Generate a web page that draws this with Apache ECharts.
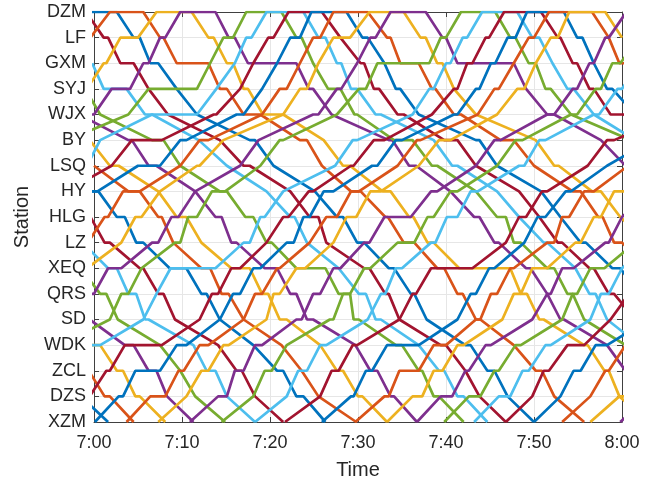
<!DOCTYPE html>
<html><head><meta charset="utf-8">
<style>html,body{margin:0;padding:0;background:#fff}#c{width:650px;height:485px}</style>
<script src="https://cdn.jsdelivr.net/npm/echarts@6/dist/echarts.min.js"></script>
</head><body><div id="c"></div>
<script>
const stations=["DZM","LF","GXM","SYJ","WJX","BY","LSQ","HY","HLG","LZ","XEQ","QRS","SD","WDK","ZCL","DZS","XZM"];
const timeTicks=["7:00","7:10","7:20","7:30","7:40","7:50","8:00"];
const palette=["#0072BD","#D95319","#EDB120","#7E2F8E","#77AC30","#4DBEEE","#A2142F"];
// Each train: first station index, first direction (-1 toward DZM, +1 toward XZM), then minutes after 7:00 at each station; a pair is arrive/depart.
const t01=[15,1,-1.5,1.6];
const t02=[14,1,-0.6,[1.2,1.8],4.5];
const t03=[13,1,[-0.5,0.7],[2.6,3.3],[4.7,5.2],8.1];
const t04=[12,1,-0.5,[3.5,4.5],[6.2,7.1],8.3,11.3];
const t05=[10,1,-1.5,[0.7,1.4],2.7,7.5,9.8,11.5,14.9];
const t06=[9,1,-1.3,[1.6,2.6],[3.9,4.8],[5.8,6.2],11.3,[12.8,13.8],15.1,18.3];
const t07=[8,1,-0.4,[1.2,1.8],[5.2,5.6],[7.3,7.9],9.2,14.1,[16.2,16.8],18.3,21.5];
const t08=[7,1,[-0.5,0.5],[2.6,3.5],[4.8,5.6],[8.6,10.5],[12.2,12.8],14.3,18.1,[20.8,21.5],[23.0,23.8],26.3];
const t09=[6,1,0,[3.9,5.2],[7.3,7.7],9.0,[12.2,13.2],[14.5,15.3],17.0,21.3,23.6,25.5,29.8];
const t10=[5,1,-0.5,[1.8,2.8],7.3,[9.4,10.5],12.2,[15.6,17.7],[19.1,19.8],[21.1,21.9],25.7,[27.6,28.3],[30.0,30.5],33.3];
const t11=[4,1,-1.7,[3.9,4.3],[6.2,7.1],11.5,[13.8,14.5],[15.6,16.2],[19.4,20.8],[22.3,23.0],[24.2,24.9],29.7,[31.4,32.2],[33.7,34.1],36.7];
const t12=[3,1,-1.0,0.7,[6.6,7.9],9.8,[14.3,15.1],[17.2,18.1],[19.6,20.2],[23.0,26.3],[27.8,29.1],[29.5,30.1],[34.3,35.0],[36.9,37.3],[38.6,39.2],42.0];
const t13=[2,1,-0.2,[1.1,3.7],[5.8,6.6],11.9,15.1,19.6,[22.3,22.8],24.2,27.8,[30.1,30.9],[32.0,32.6],36.9,[39.2,39.8],[41.3,42.0],44.7];
const t14=[0,1,-0.9,[1.1,1.6],[3.0,4.5],6.2,8.4,14.3,[17.0,17.7],22.3,[24.5,25.5],26.4,[30.7,31.3],[33.1,33.5],34.7,[39.4,40.0],42.2,43.8,46.8];
const t15=[0,1,[-2,2.6],[4.5,5.2],[6.4,7.3],9.4,11.7,[17.7,18.3],20.4,25.1,[27.6,28.3],[29.9,30.7],[33.5,34.1],[36.0,36.4],37.8,[42.2,42.8],[44.7,45.5],47.0,50.0];
const t16=[1,-1,-0.4,[1.8,5.6],[7.5,7.9],[9.4,13.0],[14.3,15.1],[17.0,18.9],[23.4,24.2],25.9,[29.2,30.3],[33.1,33.4],[35.2,36.4],[39.0,39.8],[41.3,41.9],[43.4,43.9],47.7,[50.2,50.9],52.3,55.7];
const t17=[3,-1,-0.8,[1.1,1.4],[3.0,5.0],[7.1,11.1],[13.0,13.6],[15.1,15.8],[17.0,17.5],[19.2,21.5],26.1,[28.3,29.1],[32.8,33.7],[35.8,36.3],[37.9,38.6],[41.5,47.3],[48.5,49.2],[50.6,51.1],[55.7,56.1],[58.0,58.5],59.7,63];
const t18=[4,-1,[-0.5,0],[2.0,4.1],[5.6,6.2],[7.5,8.1],[9.8,13.8],[15.3,16.0],[17.5,23.0],[24.4,24.9],27.0,[33.5,33.9],[35.8,36.6],40.5,[43.2,43.8],[45.5,46.0],[49.1,49.6],51.5,[53.0,53.4],58.3,60.4];
const t19=[5,-1,-3.0,3.9,[6.2,11.7],13.2,[14.7,15.8],[17.3,21.3],[23.0,23.6],24.9,[26.6,28.0],[29.6,29.9],[34.1,36.2],[38.4,39.0],43.4,[45.8,46.8],[47.7,48.5],[51.5,52.3],[53.8,54.4],55.7,60.4];
const t20=[6,-1,-0.8,0.7,[6.6,11.7],13.9,16.0,[17.3,17.9],[19.6,23.8],[25.5,26.3],[27.6,28.1],[29.2,29.9],[32.0,32.6],38.6,[40.7,41.3],45.8,48.3,[51.1,51.5],54.7,[56.3,57.0],58.3,62];
const t21=[7,-1,-3.2,2.0,[4.3,7.7],[13.6,13.9],16.6,18.1,[19.8,20.4],[22.1,25.9],28.0,[30.3,30.7],[31.8,32.4],[34.5,35.2],[39.8,41.3],43.4,48.3,50.6,[52.7,53.2],[56.3,56.8],[58.5,59.1],61.5];
const t22=[7,-1,[-0.5,0.4],[5.0,7.5],[9.8,10.5],[16.2,17.0],19.1,20.8,[22.3,23.4],[24.7,28.7],[30.5,31.1],33.0,[34.3,34.8],36.9,[43.4,43.8],45.8,50.8,53.0,[55.3,55.9],[58.9,59.8],62];
const t23=[9,-1,-0.7,[1.2,1.6],[3.3,5.2],9.8,[12.0,13.0],19.1,[21.1,21.9],23.4,[24.9,25.7],[27.2,31.1],[33.3,33.7],[34.8,36.9],[38.4,38.8],[40.9,41.7],[46.2,47.7],50.0,[54.4,55.3],[57.3,57.8],[59.1,60.0],63];
const t24=[10,-1,-0.8,3.1,[4.7,5.4],7.5,[11.7,12.0],14.7,21.5,[23.4,24.2],25.5,[27.2,29.1],[31.3,35.2],[37.1,37.7],[39.0,39.6],40.9,43.4,50.2,[52.3,52.8],[56.6,57.6],59.8,63];
const t25=[11,-1,[-0.5,0],[1.6,3.1],[6.6,7.3],[8.8,9.6],11.5,16.6,18.7,[24.9,25.5],[27.6,28.1],29.9,[31.4,32.0],[33.7,37.7],[39.6,40.0],[41.3,47.7],49.1,[51.5,52.3],57.6,60.4];
const t26=[13,-1,-4,1.8,[3.1,3.9],5.4,[9.2,9.8],[10.7,11.7],[13.4,14.9],18.9,[21.1,21.5],27.6,[30.1,30.9],[32.2,38.1],[39.4,40.0],[41.7,45.6],[47.3,47.9],[49.4,50.2],[51.3,51.9],54.2,61];
const t27=[13,-1,[-0.5,0.7],5.6,7.1,[8.7,13.8],[17.0,17.7],[18.9,19.4],21.5,27.4,[29.4,29.9],36.2,[38.1,38.6],[40.0,40.5],[41.9,42.4],[44.1,48.1],[49.8,50.6],52.1,[53.8,54.5],56.8,61.5];
const t28=[15,-1,-0.5,[1.4,1.8],[3.5,7.7],12.0,[13.4,14.1],[15.6,16.6],19.6,[21.5,22.1],[24.4,24.9],[29.2,29.5],[31.8,33.0],38.4,[40.9,41.3],[42.4,43.0],[44.5,44.9],[46.6,50.8],[52.7,53.0],[54.4,54.9],[56.3,56.8],[58.7,60.2],66];
const t29=[16,-1,0.1,[2.8,3.3],[4.7,7.5],[9.4,10.5],14.3,[15.8,16.6],[18.1,18.9],[21.9,22.7],[23.8,24.5],[26.1,27.2],[31.6,32.2],[34.3,35.0],[40.9,41.3],[43.4,43.8],[45.1,45.6],[47.0,47.9],[49.2,53.4],[54.9,55.5],56.8,[58.3,58.9],61.5];
const t30=[16,-1,3.7,[6.4,8.1],[9.6,10.2],[12.0,13.0],17.0,[18.3,19.1],[20.8,21.1],24.5,[26.4,27.6],[29.2,30.1],34.5,[36.7,37.1],43.6,[45.5,46.0],47.7,[49.4,50.0],[51.7,56.6],58.5,[59.7,60.5]];
const t31=[16,-1,7.3,10.5,[12.2,13.0],[14.7,15.3],19.6,[20.4,21.1],[23.0,24.0],27.2,[28.7,29.8],[31.4,32.6],36.9,[39.2,40.5],45.8,[48.1,48.9],50.2,[51.9,52.7],[54.0,58.1],60];
const t32=[16,-1,10.9,[14.1,15.1],[16.0,17.0],[18.3,19.1],[23.0,23.6],[24.9,25.7],[27.2,28.0],[30.7,31.3],[33.0,36.0],[38.3,39.0],43.4,[45.5,46.2],[51.5,52.3],[54.4,54.9],[56.3,56.8],[58.1,58.5],60.5];
const t33=[16,-1,14.5,[18.1,18.3],[19.4,20.2],21.9,[26.8,27.2],[28.3,29.1],[30.7,31.4],[34.5,36.4],[37.9,38.6],[40.5,41.3],45.8,[47.9,48.7],[54.2,54.9],[57.0,57.6],[58.9,59.8],62];
const t34=[16,-1,18.3,21.9,[23.2,24.2],[25.7,26.4],31.1,[32.6,33.1],[34.3,35.0],[38.3,38.8],[40.1,41.3],[42.8,43.6],[48.3,48.9],[50.6,51.3],[56.8,57.4],[59.5,60.0],62];
const t35=[16,-1,21.7,25.7,[27.0,27.8],[29.4,29.9],34.7,[36.2,36.6],[38.3,43.0],46.8,[48.3,49.1],[50.9,51.5],56.1,[58.3,59.1],66];
const t36=[16,-1,25.9,[29.2,29.5],[30.9,31.6],[33.3,36.9],41.3,[42.8,43.4],[44.9,45.5],48.9,[50.4,51.3],[53.6,54.2],[58.3,58.5],63.4];
const t37=[16,-1,29.7,[33.0,33.5],[34.7,36.9],[38.6,40.0],[43.4,43.9],[45.1,45.8],[47.3,47.7],[51.5,52.3],[53.2,54.0],[55.7,56.8],60.7];
const t38=[16,-1,33.3,[36.2,37.3],[38.6,39.6],[41.3,42.0],46.4,[47.7,48.5],[49.8,51.5],[54.7,55.3],[56.8,57.6],[59.1,60.2],65];
const t39=[16,-1,36.7,[39.4,40.7],[42.2,42.6],[44.5,45.1],49.8,[51.5,51.9],[53.2,54.5],[58.1,58.5],60.0,63];
const t40=[16,-1,39.8,[42.6,43.9],[45.5,46.0],[47.9,48.5],53.2,[54.4,54.9],[56.4,58.0],61.5];
const t41=[16,-1,43.2,[46.0,47.3],[48.7,49.4],[51.3,51.9],56.4,[57.6,58.5],60.0,63];
const t42=[16,-1,46.8,49.8,[51.1,51.7],[53.8,55.7],58.7,60.8];
const t43=[16,-1,50.0,53.0,[54.5,55.3],[57.0,58.3],63];
const t44=[16,-1,53.2,56.4,[58.1,58.5],60.4];
const t45=[16,-1,56.4,[59.7,61],64];
const t46=[16,-1,59.8,63];
const trains=[t01,t02,t03,t04,t05,t06,t07,t08,t09,t10,t11,t12,t13,t14,t15,t16,t17,t18,t19,t20,t21,t22,t23,t24,t25,t26,t27,t28,t29,t30,t31,t32,t33,t34,t35,t36,t37,t38,t39,t40,t41,t42,t43,t44,t45,t46];

function path(tr){
  let s=tr[0],d=tr[1];const pts=[];
  tr.slice(2).forEach(e=>{
    (Array.isArray(e)?e:[e]).forEach(v=>pts.push([v,s]));
    if(d<0&&s===0)d=1;
    s+=d;
  });
  return pts;
}
const fam='"Liberation Sans",Arial,sans-serif',ink='#262626';
const font={fontFamily:fam,fontSize:18,color:ink};
const chart=echarts.init(document.getElementById('c'),null,{renderer:'canvas'});
const base={min:0,axisLine:{show:true,onZero:false,lineStyle:{color:'#404040',width:1}},axisTick:{show:true,inside:true,length:5,lineStyle:{color:'#404040'}}};
chart.setOption({
  animation:false,backgroundColor:'#fff',
  grid:{left:94,right:28,top:12,bottom:61,containLabel:false},
  xAxis:[
   {...base,type:'value',max:60,interval:10,name:'Time',nameLocation:'middle',nameGap:38,nameTextStyle:{fontFamily:fam,fontSize:20,color:ink},
    axisLabel:{...font,margin:12,formatter:v=>timeTicks[v/10]},splitLine:{show:true,lineStyle:{color:'#e6e6e6',width:1}}},
   {...base,type:'value',max:60,interval:10,position:'top',axisLabel:{show:false},splitLine:{show:false}}],
  yAxis:[
   {...base,type:'value',max:16,interval:1,inverse:true,name:'Station',nameLocation:'middle',nameGap:62,nameTextStyle:{fontFamily:fam,fontSize:20,color:ink},
    axisLabel:{...font,margin:8,formatter:v=>stations[v]},splitLine:{show:true,lineStyle:{color:'#e6e6e6',width:1}}},
   {...base,type:'value',max:16,interval:1,inverse:true,position:'right',axisLabel:{show:false},splitLine:{show:false}}],
  series:trains.map((tr,i)=>({type:'line',data:path(tr),showSymbol:false,symbol:'none',clip:true,silent:true,
    lineStyle:{width:2.7,color:palette[i%7]},itemStyle:{color:palette[i%7]},z:2}))
});
</script></body></html>
